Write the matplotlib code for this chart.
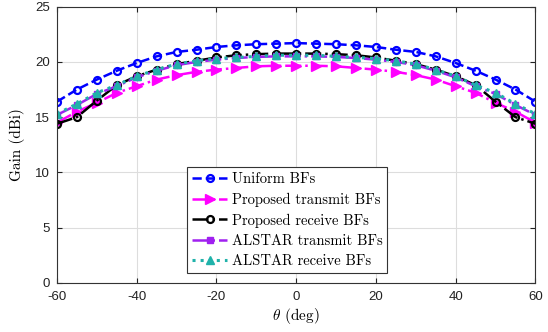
import numpy as np
from matplotlib import pyplot as plt

# Angles (deg) and gains (dBi).
theta = list(range(-60, 61, 5))
xticks = [-60, -40, -20, 0, 20, 40, 60]
yticks = [0, 5, 10, 15, 20, 25]

uniform = [16.4, 17.5, 18.4, 19.2, 19.9, 20.5, 20.9, 21.1, 21.35, 21.5, 21.6, 21.65, 21.7,
           21.65, 21.6, 21.5, 21.35, 21.1, 20.9, 20.5, 19.9, 19.2, 18.4, 17.5, 16.4]
prop_tx = [14.5, 15.5, 16.3, 17.2, 17.8, 18.4, 18.8, 19.1, 19.3, 19.45, 19.6, 19.65, 19.65,
           19.65, 19.6, 19.45, 19.3, 19.1, 18.8, 18.4, 17.8, 17.2, 16.3, 15.5, 14.5]
prop_rx = [14.4, 15.0, 16.5, 17.9, 18.7, 19.3, 19.8, 20.1, 20.4, 20.6, 20.7, 20.75, 20.75,
           20.75, 20.7, 20.6, 20.4, 20.1, 19.8, 19.3, 18.7, 17.9, 16.4, 15.0, 14.4]
alstar_tx = [15.2, 16.1, 17.1, 17.8, 18.6, 19.2, 19.7, 20.0, 20.2, 20.35, 20.45, 20.5, 20.5,
             20.5, 20.45, 20.35, 20.2, 20.0, 19.7, 19.2, 18.6, 17.8, 17.1, 16.1, 15.2]
alstar_rx = [15.3, 16.2, 17.2, 17.9, 18.7, 19.3, 19.8, 20.1, 20.3, 20.4, 20.5, 20.6, 20.6,
             20.6, 20.5, 20.4, 20.3, 20.1, 19.8, 19.3, 18.7, 17.9, 17.2, 16.2, 15.3]


def main():
    plt.rcParams['mathtext.fontset'] = 'cm'
    fig = plt.figure(figsize=(5.48, 3.32), dpi=100)
    ax = fig.add_axes([0.104, 0.148, 0.873, 0.832])

    ax.plot(theta, uniform, c='blue', ls='--', lw=1.8, marker='o', ms=5,
            mfc='none', mew=1.6, label='Uniform BFs')
    ax.plot(theta, prop_tx, c='magenta', ls='-.', lw=1.8, marker='>', ms=6.5,
            label='Proposed transmit BFs')
    ax.plot(theta, prop_rx, c='black', ls='-.', lw=1.8, marker='o', ms=5,
            mfc='none', mew=1.6, label='Proposed receive BFs')
    ax.plot(theta, alstar_tx, c='#a020f0', ls='-.', lw=1.8, marker='s', ms=4,
            label='ALSTAR transmit BFs')
    ax.plot(theta, alstar_rx, c='#20b2aa', ls=':', lw=2.2, marker='^', ms=6,
            label='ALSTAR receive BFs')

    ax.set_xlim(-60, 60)
    ax.set_ylim(0, 25)
    ax.set_xticks(xticks)
    ax.set_xticklabels([str(t) for t in xticks], family='Liberation Sans')
    ax.set_yticks(yticks)
    ax.set_yticklabels([str(t) for t in yticks], family='Liberation Sans')
    ax.grid(True, color='#dddddd', lw=0.8)
    ax.set_axisbelow(True)
    for s in ax.spines.values():
        s.set_color('#333333')
    ax.tick_params(direction='in', labelsize=9.5, colors='#222222', top=True, right=True)
    ax.tick_params(axis='x', pad=6)
    ax.tick_params(axis='y', pad=5)

    serif = 'cmr10'
    ax.set_xlabel(r'$\theta$ (deg)', fontsize=11, family=serif, labelpad=2)
    ax.set_ylabel('Gain (dBi)', fontsize=11, family=serif, labelpad=7)

    leg = ax.legend(loc='lower left', bbox_to_anchor=(0.272, 0.035),
                    prop={'family': serif, 'size': 10.5}, fancybox=False,
                    edgecolor='#333333', framealpha=1, handlelength=2.4,
                    borderpad=0.35, labelspacing=0.45, handletextpad=0.3,
                    borderaxespad=0)
    leg.get_frame().set_linewidth(0.8)

    fig.savefig('out.png', dpi=100)


if __name__ == '__main__':
    main()
